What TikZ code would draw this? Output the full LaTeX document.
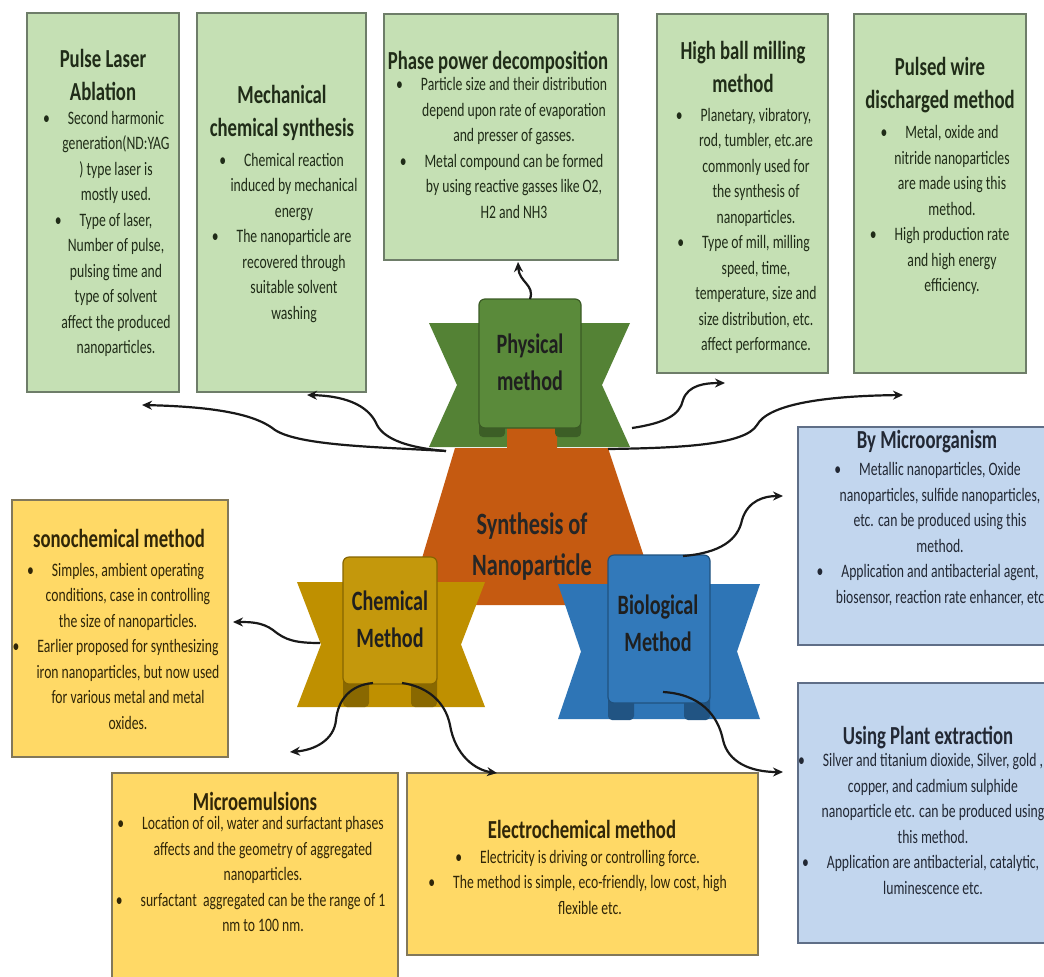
\documentclass[tikz,border=0pt]{standalone}
\usepackage{fontspec}
\setmainfont{Carlito}[FakeStretch=0.72]
\usepackage{tikz}
\usetikzlibrary{arrows.meta}
\definecolor{leafbox}{RGB}{197,224,180}
\definecolor{leafedge}{RGB}{110,125,105}
\definecolor{sunbox}{RGB}{255,217,102}
\definecolor{sunedge}{RGB}{130,120,90}
\definecolor{skybox}{RGB}{194,214,238}
\definecolor{skyedge}{RGB}{95,110,135}
\definecolor{physgreen}{RGB}{84,130,53}
\definecolor{physcard}{RGB}{90,138,58}
\definecolor{coreorange}{RGB}{197,90,17}
\definecolor{chemgold}{RGB}{191,144,0}
\definecolor{chemcard}{RGB}{196,152,12}
\definecolor{bioblue}{RGB}{46,117,182}
\definecolor{biocard}{RGB}{50,121,186}
\definecolor{inkgreen}{RGB}{32,44,24}
\definecolor{inkgold}{RGB}{48,38,8}
\definecolor{inkblue}{RGB}{34,40,52}
\newcommand\bul{\llap{\textbullet\hspace{9pt}}}
% banner with notched sides: x-left, y-top, x-right, y-bottom, notch, colour
\newcommand\ribbon[6]{\fill[#6] (#1,#2) -- ({#1+#5},{(#2+#4)/2}) -- (#1,#4) -- (#3,#4) -- ({#3-#5},{(#2+#4)/2}) -- (#3,#2) -- cycle;}
% raised card with two folds: x-left, y-top, x-right, y-bottom, fold bottom, card colour, base colour
\newcommand\ribboncard[7]{\fill[#7!72!black, rounded corners=2pt] (#1,{#4-10}) rectangle ({#1+26},#5);\fill[#7!72!black, rounded corners=2pt] ({#3-26},{#4-10}) rectangle (#3,#5);\filldraw[fill=#6, draw=#7!70!black, line width=0.6pt, rounded corners=3pt] (#1,#2) rectangle (#3,#4);}
\tikzset{
  leafcell/.style={fill=leafbox, draw=leafedge, line width=0.8pt},
  suncell/.style={fill=sunbox, draw=sunedge, line width=0.8pt},
  skycell/.style={fill=skybox, draw=skyedge, line width=0.8pt},
  headtxt/.style={font=\fontsize{13}{16.75}\selectfont\bfseries, align=center, inner sep=0pt},
  bodytxt/.style={font=\fontsize{9.5}{12.75}\selectfont, align=center, inner sep=0pt},
  shapelbl/.style={font=\fontsize{14}{18.5}\selectfont\bfseries, align=center, inner sep=0pt, text=black!88},
  corelbl/.style={font=\fontsize{15.5}{20.5}\selectfont\bfseries, align=center, inner sep=0pt, text=black!85},
  link/.style={line width=1.1pt, draw=black!90, -{Stealth[length=5pt,width=4.5pt]}}
}
\begin{document}
\begin{tikzpicture}[x=0.5pt, y=-0.5pt]
\useasboundingbox (0,0) rectangle (1044,976);
\clip (0,0) rectangle (1044,976);
\fill[white] (0,0) rectangle (1044,976);

% physical methods
\draw[leafcell] (27,13) rectangle (179,392);
\draw[leafcell] (197,13) rectangle (366,392);
\draw[leafcell] (384,14) rectangle (618,260);
\draw[leafcell] (657,14) rectangle (828,373);
\draw[leafcell] (854,14) rectangle (1026,373);
\begin{scope}[text=inkgreen]
\node[headtxt] (plaHead) at (103,75) {Pulse Laser\\Ablation};
\node[bodytxt] (plaBody) at (116,234) {\bul Second harmonic\\generation(ND:YAG\\) type laser is\\mostly used.\\\bul Type of laser,\\Number of pulse,\\pulsing time and\\type of solvent\\affect the produced\\nanoparticles.};
\node[headtxt] (mcsHead) at (282,113) {Mechanical\\chemical synthesis};
\node[bodytxt] (mcsBody) at (294,238) {\bul Chemical reaction\\induced by mechanical\\energy\\\bul The nanoparticle are\\recovered through\\suitable solvent\\washing};
\node[headtxt] (ppdHead) at (498,62) {Phase power decomposition};
\node[bodytxt] (ppdBody) at (514,148) {\bul Particle size and their distribution\\depend upon rate of evaporation\\and presser of gasses.\\\bul Metal compound can be formed\\by using reactive gasses like O2,\\H2 and NH3};
\node[headtxt] (hbmHead) at (743,67) {High ball milling\\method};
\node[bodytxt] (hbmBody) at (756,231) {\bul Planetary, vibratory,\\rod, tumbler, etc.are\\commonly used for\\the synthesis of\\nanoparticles.\\\bul Type of mill, milling\\speed, time,\\temperature, size and\\size distribution, etc.\\affect performance.};
\node[headtxt] (pwdHead) at (940,85) {Pulsed wire\\discharged method};
\node[bodytxt] (pwdBody) at (952,210) {\bul Metal, oxide and\\nitride nanoparticles\\are made using this\\method.\\\bul High production rate\\and high energy\\efficiency.};
\end{scope}

% biological methods
\draw[skycell] (798,427) rectangle (1056,645);
\draw[skycell] (798,683) rectangle (1056,943);
\begin{scope}[text=inkblue]
\node[headtxt] (micHead) at (927,442) {By Microorganism};
\node[bodytxt] (micBody) at (940,534) {\bul Metallic nanoparticles, Oxide\\nanoparticles, sulfide nanoparticles,\\etc. can be produced using this\\method.\\\bul Application and antibacterial agent,\\biosensor, reaction rate enhancer, etc};
\node[headtxt] (plnHead) at (928,738) {Using Plant extraction};
\node[bodytxt] (plnBody) at (933,824) {\bul Silver and titanium dioxide, Silver, gold ,\\copper, and cadmium sulphide\\nanoparticle etc. can be produced using\\this method.\\\bul Application are antibacterial, catalytic,\\luminescence etc.};
\end{scope}

% chemical methods
\draw[suncell] (12,500) rectangle (228,757);
\draw[suncell] (112,773) rectangle (398,990);
\draw[suncell] (407,773) rectangle (758,955);
\begin{scope}[text=inkgold]
\node[headtxt] (sonHead) at (119,538) {sonochemical method};
\node[bodytxt] (sonBody) at (128,646) {\bul Simples, ambient operating\\conditions, case in controlling\\the size of nanoparticles.\\\bul Earlier proposed for synthesizing\\iron nanoparticles, but now used\\for various metal and metal\\oxides.};
\node[headtxt] (mieHead) at (255,801) {Microemulsions};
\node[bodytxt] (mieBody) at (263,874) {\bul Location of oil, water and surfactant phases\\affects and the geometry of aggregated\\nanoparticles.\\\bul surfactant\ \ aggregated can be the range of 1\\nm to 100 nm.};
\node[headtxt] (eleHead) at (582,829) {Electrochemical method};
\node[bodytxt] (eleBody) at (590,882) {\bul Electricity is driving or controlling force.\\\bul The method is simple, eco-friendly, low cost, high\\flexible etc.};
\end{scope}

% centre ribbons
\ribbon{429}{323}{630}{447}{28}{physgreen}
\fill[coreorange] (507,428) -- (557,428) -- (557,448) -- (608,448) -- (660,605) -- (408,605) -- (455,448) -- (507,448) -- cycle;
\ribboncard{479}{299}{581}{428}{437}{physcard}{physgreen}
\ribbon{297}{582}{485}{707}{24}{chemgold}
\ribboncard{343}{557}{437}{684}{707}{chemcard}{chemgold}
\ribbon{558}{584}{760}{719}{23}{bioblue}
\ribboncard{608}{555}{710}{703}{720}{biocard}{bioblue}
\node[shapelbl] (phys) at (530,362) {Physical\\method};
\node[corelbl] (core) at (532,547) {Synthesis of\\Nanoparticle};
\node[shapelbl] (chem) at (390,619) {Chemical\\Method};
\node[shapelbl] (bio) at (658,623) {Biological\\Method};

% connectors
\coordinate (physL) at (446,451);
\coordinate (physT) at (530,299);
\coordinate (physR) at (632,428);
\coordinate (physB) at (608,449);
\coordinate (plaTip) at (142,405);
\coordinate (mcsTip) at (307,395);
\coordinate (ppdTip) at (518,262);
\coordinate (hbmTip) at (725,383);
\coordinate (pwdTip) at (903,395);
\coordinate (bioT) at (683,556);
\coordinate (bioB) at (663,692);
\coordinate (micTip) at (783,496);
\coordinate (plnTip) at (783,772);
\coordinate (chemL) at (320,643);
\coordinate (chemBL) at (373,683);
\coordinate (chemBR) at (402,683);
\coordinate (sonTip) at (233,622);
\coordinate (mieTip) at (290,752);
\coordinate (eleTip) at (497,773);
\draw[link] (physL) .. controls (380,447) and (300,446) .. (275,430) .. controls (260,418) and (230,407) .. (plaTip);
\draw[link] (physL) .. controls (410,448) and (385,440) .. (377,425) .. controls (370,408) and (350,396) .. (mcsTip);
\draw[link] (physT) .. controls (535,285) and (519,282) .. (ppdTip);
\draw[link] (physR) .. controls (665,423) and (680,415) .. (683,400) .. controls (688,385) and (705,383) .. (hbmTip);
\draw[link] (physB) .. controls (680,448) and (745,445) .. (757,425) .. controls (768,405) and (820,396) .. (pwdTip);
\draw[link] (bioT) .. controls (720,553) and (738,540) .. (742,520) .. controls (748,500) and (765,496) .. (micTip);
\draw[link] (bioB) .. controls (700,694) and (718,715) .. (723,740) .. controls (728,762) and (750,772) .. (plnTip);
\draw[link] (chemL) .. controls (295,643) and (285,640) .. (273,630) .. controls (262,622) and (250,622) .. (sonTip);
\draw[link] (chemBL) .. controls (350,685) and (338,700) .. (336,720) .. controls (334,740) and (315,750) .. (mieTip);
\draw[link] (chemBR) .. controls (425,686) and (445,700) .. (450,725) .. controls (455,755) and (475,770) .. (eleTip);
\end{tikzpicture}
\end{document}
